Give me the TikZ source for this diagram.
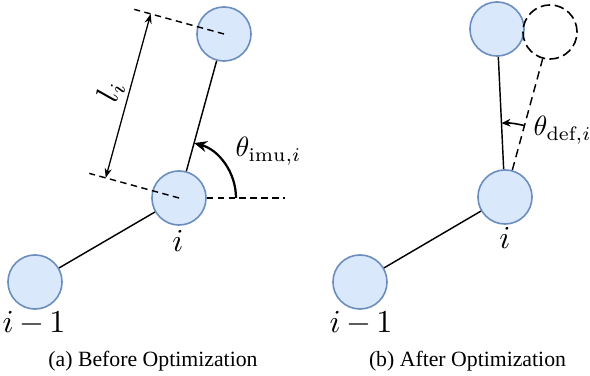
\documentclass[tikz,border=0pt]{standalone}
\usepackage{fontspec}
\newfontfamily\capfont{Liberation Serif}
\usetikzlibrary{arrows.meta,calc}
\definecolor{jointfill}{HTML}{DAE8FC}
\definecolor{jointdraw}{HTML}{6C8EBF}
\begin{document}
\begin{tikzpicture}[x=0.3125pt,y=0.3125pt,
  joint/.style={circle, draw=jointdraw, fill=jointfill, line width=0.5pt, minimum size=16.9pt, inner sep=0pt},
  ghost/.style={circle, draw=black, dash pattern=on 3pt off 1.4pt, line width=0.5pt, minimum size=16.9pt, inner sep=0pt},
  link/.style={line width=0.45pt},
  guide/.style={dash pattern=on 2pt off 1.4pt, line width=0.45pt},
  ghostlink/.style={dash pattern=on 2.6pt off 1.6pt, line width=0.45pt},
  dimarrow/.style={line width=0.4pt, {Stealth[length=3pt,width=2.2pt]}-{Stealth[length=3pt,width=2.2pt]}},
  anglebig/.style={line width=0.7pt, -{Stealth[length=4pt,width=3.4pt]}},
  anglesmall/.style={line width=0.5pt, -{Stealth[length=2.8pt,width=2.4pt]}},
  lbl/.style={inner sep=0pt},
  anglelbl/.style={inner sep=0pt, scale=0.87, transform shape},
  captext/.style={font=\capfont\fontsize{6.8}{8}\selectfont, inner sep=0pt}]
\useasboundingbox (0,0) rectangle (590,376);

% joints
\node[joint] (A) at (35,94) {};
\node[joint] (B) at (179,178) {};
\node[joint] (C) at (224,342) {};
\node[joint] (D) at (360,94) {};
\node[joint] (E) at (505,179) {};
\node[joint] (F) at (497,347) {};
\node[ghost] (G) at (550,344) {};

% links
\draw[link] (A) -- (B);
\draw[link] (B) -- (C);
\draw[link] (D) -- (E);
\draw[link] (E) -- (F);
\draw[ghostlink] (E) -- (G);

% guide lines (left)
\coordinate (Cp) at (134.3,366.6);
\coordinate (Bp) at (89.3,202.6);
\coordinate (Bh) at (285,178);
\draw[guide] (C.center) -- (Cp);
\draw[guide] (B.center) -- (Bp);
\draw[guide] (B.east) -- (Bh);

% length arrow
\coordinate (L1) at (105.7,198.1);
\coordinate (L2) at (150.7,362.1);
\draw[dimarrow] (L1) -- node[midway, sloped, above, inner sep=1.25pt] (llab) {$l_i$} (L2);

% angle arcs
\draw[anglebig] ($(B.center)+(57,0)$) arc[start angle=0, end angle=74.66, radius=17.8pt];
\draw[anglesmall] ($(E.center)+(74.66:23.1pt)$) arc[start angle=74.66, end angle=92.7, radius=23.1pt];

% labels
\node[anglelbl, anchor=base west] (thimu) at (235,219) {$\theta_{\mathrm{imu},i}$};
\node[anglelbl, anchor=base west] (thdef) at (533,240) {$\theta_{\mathrm{def},i}$};
\node[lbl, anchor=base] (labB) at (178,124) {$i$};
\node[lbl, anchor=base] (labE) at (505,127) {$i$};
\node[lbl, anchor=base] (labA) at (34,43) {$i\,{-}\,1$};
\node[lbl, anchor=base] (labD) at (361,43) {$i\,{-}\,1$};

% captions
\node[captext, anchor=base] (capa) at (153,9.5) {(a) Before Optimization};
\node[captext, anchor=base] (capb) at (467.5,9.5) {(b) After Optimization};
\end{tikzpicture}
\end{document}
